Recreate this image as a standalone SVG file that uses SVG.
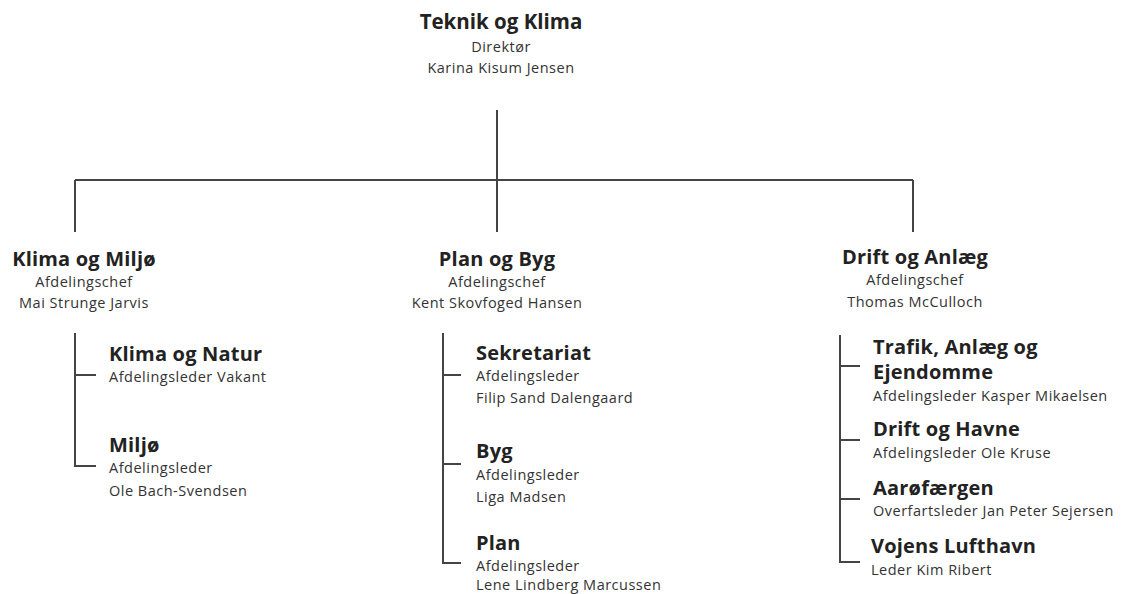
<svg xmlns="http://www.w3.org/2000/svg" width="1123" height="594" viewBox="0 0 1123 594">
<style>
.t{font-family:"Open Sans","Noto Sans",sans-serif;font-weight:bold;font-size:20px;fill:#222;letter-spacing:0.2px}
.top{font-size:20.5px;letter-spacing:0}
.s{font-family:"Open Sans","Noto Sans",sans-serif;font-size:14.5px;fill:#333;letter-spacing:0.5px}
.c{text-anchor:middle}
.ln{stroke:#444;stroke-width:2;fill:none}
</style>
<rect width="1123" height="594" fill="#fff"/>
<g id="connectors" class="ln">
<path d="M497 110V180M75 180H913M75 180V232M497 180V232M913 180V232"/>
<path d="M75 333V466H96M75 375H96"/>
<path d="M443 333V563H461M443 375H461M443 464H461"/>
<path d="M840 335V562H860M840 366H860M840 440H860M840 499H860"/>
</g>
<g id="n-top"><text class="t top c" x="501" y="29">Teknik og Klima</text><text class="s c" x="501" y="52">Direktør</text><text class="s c" x="501" y="73">Karina Kisum Jensen</text></g>
<g id="n-km"><text class="t c" x="84" y="266">Klima og Miljø</text><text class="s c" x="84" y="287">Afdelingschef</text><text class="s c" x="84" y="308">Mai Strunge Jarvis</text></g>
<g id="n-pb"><text class="t c" x="497" y="266">Plan og Byg</text><text class="s c" x="497" y="287">Afdelingschef</text><text class="s c" x="497" y="308">Kent Skovfoged Hansen</text></g>
<g id="n-da"><text class="t c" x="915" y="264">Drift og Anlæg</text><text class="s c" x="915" y="285">Afdelingschef</text><text class="s c" x="915" y="307">Thomas McCulloch</text></g>
<g id="n-kn"><text class="t" x="109" y="361">Klima og Natur</text><text class="s" x="109" y="382">Afdelingsleder Vakant</text></g>
<g id="n-mi"><text class="t" x="109" y="452">Miljø</text><text class="s" x="109" y="473">Afdelingsleder</text><text class="s" x="109" y="496">Ole Bach-Svendsen</text></g>
<g id="n-se"><text class="t" x="476" y="360">Sekretariat</text><text class="s" x="476" y="381">Afdelingsleder</text><text class="s" x="476" y="403">Filip Sand Dalengaard</text></g>
<g id="n-by"><text class="t" x="476" y="458">Byg</text><text class="s" x="476" y="480">Afdelingsleder</text><text class="s" x="476" y="502">Liga Madsen</text></g>
<g id="n-pl"><text class="t" x="476" y="550">Plan</text><text class="s" x="476" y="571">Afdelingsleder</text><text class="s" x="476" y="590">Lene Lindberg Marcussen</text></g>
<g id="n-tr"><text class="t" x="873" y="354">Trafik, Anlæg og</text><text class="t" x="873" y="379">Ejendomme</text><text class="s" x="873" y="401">Afdelingsleder Kasper Mikaelsen</text></g>
<g id="n-dh"><text class="t" x="873" y="436">Drift og Havne</text><text class="s" x="873" y="458">Afdelingsleder Ole Kruse</text></g>
<g id="n-aa"><text class="t" x="873" y="495">Aarøfærgen</text><text class="s" x="873" y="516">Overfartsleder Jan Peter Sejersen</text></g>
<g id="n-vl"><text class="t" x="871" y="553">Vojens Lufthavn</text><text class="s" x="871" y="575">Leder Kim Ribert</text></g>
</svg>
